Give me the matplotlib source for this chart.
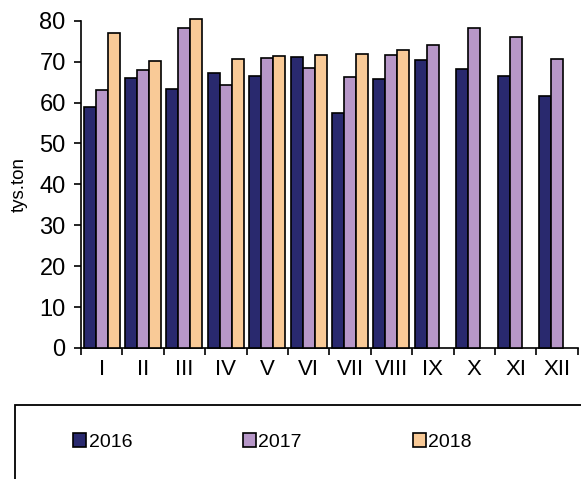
import numpy as np
import matplotlib
matplotlib.use("Agg")
from matplotlib import pyplot as plt
from matplotlib.patches import Rectangle

plt.rcParams['font.family'] = ['Liberation Sans', 'DejaVu Sans']

months = ["I", "II", "III", "IV", "V", "VI", "VII", "VIII", "IX", "X", "XI", "XII"]
v2016 = [58.9, 66.0, 63.3, 67.1, 66.5, 71.1, 57.4, 65.8, 70.5, 68.3, 66.5, 61.7]
v2017 = [63.1, 67.9, 78.2, 64.3, 70.8, 68.4, 66.2, 71.5, 74.1, 78.1, 75.9, 70.7]
v2018 = [77.0, 70.1, 80.3, 70.6, 71.3, 71.5, 71.9, 72.9]
years = ["2016", "2017", "2018"]
colors = ['#29296E', '#B797C8', '#F9CA97']

fig = plt.figure(figsize=(5.81, 4.79), dpi=100)
ax = fig.add_axes([0.1394, 0.2735, 0.855, 0.6833])

x = np.arange(len(months))
w = 0.29
series = [v2016, v2017, v2018]
for k, vals in enumerate(series):
    xs = x[:len(vals)] + (k - 1) * w
    ax.bar(xs, vals, width=w, color=colors[k], edgecolor='black',
           linewidth=1.2, label=years[k], clip_on=False, zorder=3)

ax.set_xlim(-0.5, 11.5)
ax.set_ylim(0, 80)
ax.set_yticks(np.arange(0, 81, 10))
ax.set_xticks(np.arange(-0.5, 12, 1))
ax.set_xticklabels([])
ax.set_xticks(x, minor=True)
ax.set_xticklabels(months, minor=True)
ax.tick_params(axis='x', which='major', direction='out', length=5, width=1.2)
ax.tick_params(axis='x', which='minor', length=0, pad=8, labelsize=16)
ax.tick_params(axis='y', direction='out', length=5, width=1.2, pad=6, labelsize=17)

for s in ['top', 'right']:
    ax.spines[s].set_visible(False)
for s in ['left', 'bottom']:
    ax.spines[s].set_linewidth(1.2)

ax.set_ylabel("tys.ton", fontsize=13.5, labelpad=8)

# legend frame running off the figure edge
fig.patches.append(Rectangle((15 / 581, -0.05), 1.1, 1 - 405 / 479 + 0.05,
                             transform=fig.transFigure, fill=False,
                             edgecolor='black', linewidth=1.3))
fig.legend(loc='center left', bbox_to_anchor=(73 / 581, 1 - 442 / 479),
           ncol=3, frameon=False, fontsize=14, handlelength=0.68,
           handleheight=0.68, handletextpad=0.12, columnspacing=5.7,
           borderpad=0, borderaxespad=0)

fig.savefig("out.png", dpi=100)
